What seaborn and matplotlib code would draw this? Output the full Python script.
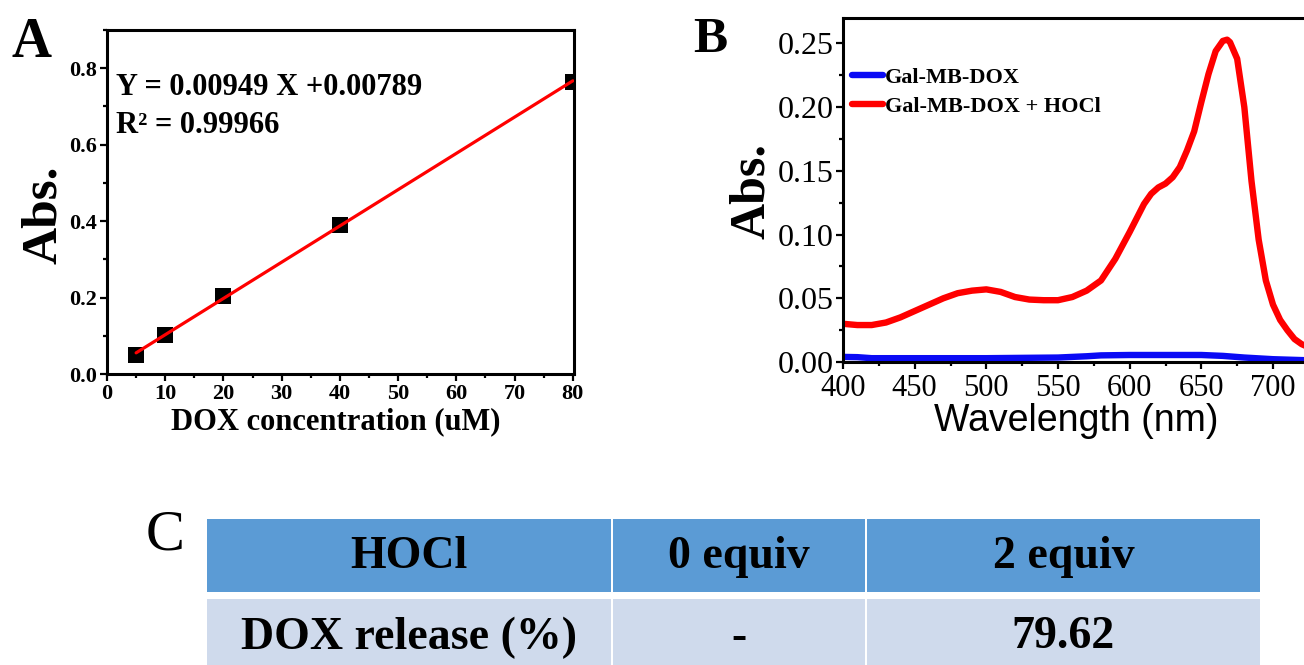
import numpy as np
import pandas as pd
import matplotlib
matplotlib.use("Agg")
import matplotlib.pyplot as plt
from matplotlib.ticker import AutoMinorLocator, MultipleLocator, FixedLocator
from matplotlib.patches import Rectangle
import seaborn as sns

# ---------------- data ----------------
# Panel A: calibration curve
dox_conc = [5, 10, 20, 40, 80]
dox_abs = [0.049, 0.101, 0.205, 0.389, 0.764]
fit_slope = 0.00949
fit_intercept = 0.00789

# Panel B: absorption spectra
wl_red = [400, 410, 420, 430, 440, 450, 460, 470, 480, 490, 500, 510, 520, 530,
          540, 550, 560, 570, 580, 590, 600, 610, 615, 620, 625, 630, 635, 640,
          645, 650, 655, 660, 665, 668, 670, 675, 680, 685, 690, 695, 700, 705,
          710, 715, 720, 730, 740]
abs_red = [0.030, 0.029, 0.029, 0.031, 0.035, 0.040, 0.045, 0.050, 0.054, 0.056,
           0.057, 0.055, 0.051, 0.049, 0.0485, 0.0485, 0.051, 0.056, 0.064, 0.081,
           0.102, 0.124, 0.132, 0.137, 0.140, 0.145, 0.153, 0.166, 0.181, 0.204,
           0.226, 0.244, 0.252, 0.253, 0.251, 0.238, 0.200, 0.142, 0.096, 0.064,
           0.045, 0.033, 0.025, 0.018, 0.014, 0.009, 0.006]
wl_blue = [400, 410, 420, 450, 500, 550, 570, 580, 600, 650, 665, 680, 700, 720, 740]
abs_blue = [0.004, 0.0038, 0.003, 0.003, 0.003, 0.0035, 0.0045, 0.0052, 0.0055,
            0.0055, 0.0048, 0.0035, 0.0022, 0.0015, 0.001]
series_names = ["Gal-MB-DOX", "Gal-MB-DOX + HOCl"]
wl_ticks = [400, 450, 500, 550, 600, 650, 700]

# Panel C: table
table_header = ["HOCl", "0 equiv", "2 equiv"]
table_row = ["DOX release (%)", "-", "79.62"]

# ---------------- style ----------------
sns.set_theme(style="ticks")
plt.rcParams["font.family"] = ["Liberation Serif", "DejaVu Serif"]
for k in ["text.color", "axes.labelcolor", "xtick.color", "ytick.color",
          "axes.edgecolor"]:
    plt.rcParams[k] = "black"
plt.rcParams["axes.linewidth"] = 2.2
for k in ["xtick.major.width", "ytick.major.width", "xtick.minor.width",
          "ytick.minor.width"]:
    plt.rcParams[k] = 1.6
plt.rcParams["xtick.major.size"] = 5
plt.rcParams["ytick.major.size"] = 5
plt.rcParams["xtick.minor.size"] = 3
plt.rcParams["ytick.minor.size"] = 3
plt.rcParams["xtick.direction"] = "out"
plt.rcParams["ytick.direction"] = "out"

W, H = 1304, 665
fig = plt.figure(figsize=(W / 100, H / 100), dpi=100)
fig.patch.set_facecolor("white")

def fx(px):
    return px / W

def fy(py):
    return 1 - py / H

# ---------------- Panel A ----------------
axA = fig.add_axes([fx(107), fy(374), fx(574) - fx(107), fy(30) - fy(374)])
dfA = pd.DataFrame({"conc": dox_conc, "abs": dox_abs})
sns.scatterplot(data=dfA, x="conc", y="abs", marker="s", s=120, color="black",
                edgecolor="black", linewidth=0, ax=axA, zorder=3)
x_fit = np.array([dox_conc[0], dox_conc[-1]])
dfFit = pd.DataFrame({"conc": x_fit, "fit": fit_slope * x_fit + fit_intercept})
sns.lineplot(data=dfFit, x="conc", y="fit", color="#FF0000", linewidth=2.3,
             ax=axA, zorder=4)
axA.set_xlim(0, 80.2)
axA.set_ylim(0, 0.9)
axA.xaxis.set_major_locator(MultipleLocator(10))
axA.xaxis.set_minor_locator(AutoMinorLocator(2))
axA.yaxis.set_major_locator(MultipleLocator(0.2))
axA.yaxis.set_minor_locator(AutoMinorLocator(2))
axA.tick_params(axis="both", which="major", labelsize=16, pad=2)
for lab in axA.get_xticklabels() + axA.get_yticklabels():
    lab.set_fontweight("bold")
axA.set_xlabel("DOX concentration (uM)", fontsize=22, fontweight="bold")
axA.set_ylabel("Abs.", fontsize=37, fontweight="bold")
axA.xaxis.set_label_coords(0.49, -0.098)
axA.yaxis.set_label_coords(-0.085, 0.462)
for sp in axA.spines.values():
    sp.set_visible(True)
    sp.set_linewidth(2.2)
    sp.set_color("black")
axA.text(0.019, 0.811, "Y = 0.00949 X +0.00789", transform=axA.transAxes,
         fontsize=22, fontweight="bold", va="baseline", ha="left")
axA.text(0.019, 0.70, "R² = 0.99966", transform=axA.transAxes,
         fontsize=22, fontweight="bold", va="baseline", ha="left")

# ---------------- Panel B ----------------
bw = 400 * (1273 - 843) / 300.0
axB = fig.add_axes([fx(843), fy(362), bw / W, fy(18) - fy(362)])
dfB = pd.concat([
    pd.DataFrame({"wl": wl_blue, "abs": abs_blue, "sample": series_names[0]}),
    pd.DataFrame({"wl": wl_red, "abs": abs_red, "sample": series_names[1]}),
])
sns.lineplot(data=dfB, x="wl", y="abs", hue="sample",
             palette={series_names[0]: "#0A0AF5", series_names[1]: "#FF0000"},
             linewidth=4.6, estimator=None, ax=axB)
axB.set_xlim(400, 800)
axB.set_ylim(0, 0.27)
axB.xaxis.set_major_locator(FixedLocator(wl_ticks))
axB.xaxis.set_minor_locator(FixedLocator([425, 475, 525, 575, 625, 675, 725]))
axB.yaxis.set_major_locator(MultipleLocator(0.05))
axB.yaxis.set_minor_locator(AutoMinorLocator(2))
axB.yaxis.set_major_formatter(matplotlib.ticker.FormatStrFormatter("%.2f"))
axB.tick_params(axis="x", which="major", labelsize=22, pad=4)
axB.tick_params(axis="y", which="major", labelsize=23, pad=2)
for sp in axB.spines.values():
    sp.set_visible(True)
    sp.set_linewidth(2.2)
    sp.set_color("black")
axB.set_xlabel("Wavelength (nm)", fontsize=27,
               family=["Liberation Sans", "DejaVu Sans"])
axB.set_ylabel("Abs.", fontsize=36, fontweight="bold")
axB.xaxis.set_label_coords(0.407, -0.118)
axB.yaxis.set_label_coords(-0.118, 0.497)
leg = axB.legend(loc="upper left", bbox_to_anchor=(9 / bw, (362 - 67) / 344),
                 frameon=False, borderaxespad=0, borderpad=0,
                 handlelength=1.4, handletextpad=0.1, labelspacing=0.38,
                 prop={"family": "Liberation Serif", "weight": "bold", "size": 16})
for line in leg.get_lines():
    line.set_linewidth(4.6)

# ---------------- Panel letters ----------------
fig.text(fx(32), fy(43), "A", fontsize=40, fontweight="bold", ha="center", va="center")
fig.text(fx(710), fy(40), "B", fontsize=37, fontweight="bold", ha="center", va="center")
fig.text(fx(165), fy(536), "C", fontsize=42, ha="center", va="center")

# ---------------- Panel C: table ----------------
axT = fig.add_axes([0, 0, 1, 1])
axT.set_xlim(0, W)
axT.set_ylim(H, 0)
axT.axis("off")
axT.patch.set_alpha(0)
col_edges = [(207, 611), (613, 865), (867, 1260)]
rows = [(table_header, 519, 592, "#5B9BD5"), (table_row, 599, 672, "#CFDAEC")]
for texts, y0, y1, col in rows:
    for (x0, x1), t in zip(col_edges, texts):
        axT.add_patch(Rectangle((x0, y0), x1 - x0, y1 - y0, facecolor=col,
                                edgecolor="none"))
        axT.text((x0 + x1) / 2, (y0 + y1) / 2 + 2, t, fontsize=33,
                 fontweight="bold", ha="center", va="center", color="black")

fig.savefig("out.png", dpi=100)
